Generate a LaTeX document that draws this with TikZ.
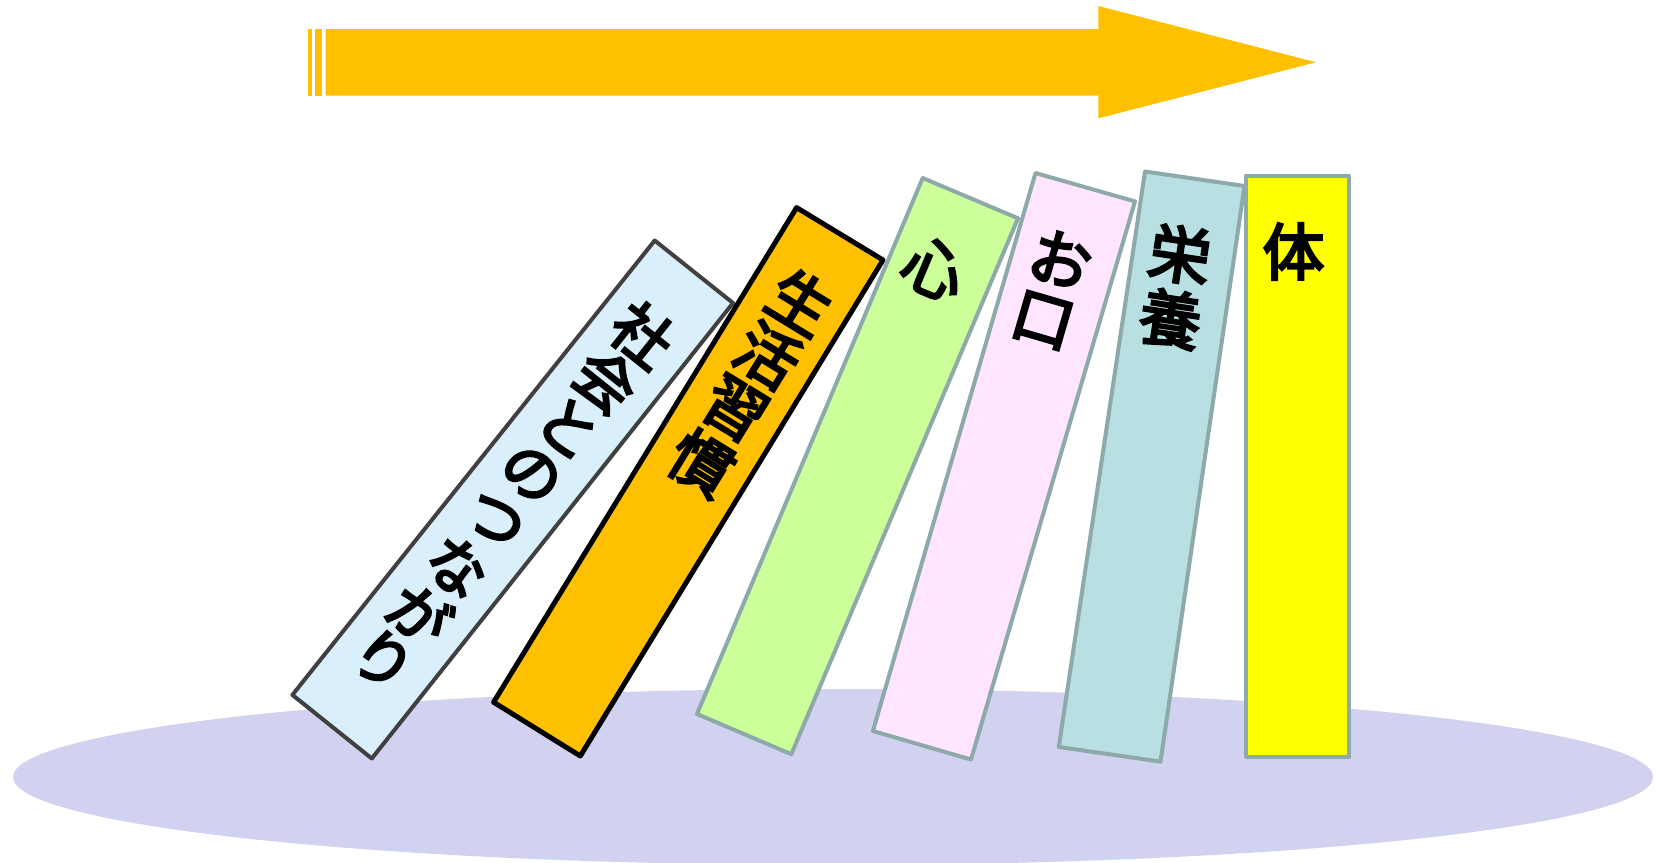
\documentclass[tikz,border=0pt]{standalone}
\usepackage{fontspec}
\newfontfamily\jp{Noto Sans CJK JP}[FakeBold=4]
\definecolor{groundcol}{HTML}{D1D2EF}
\definecolor{arrowcol}{HTML}{FFC000}
\definecolor{bluefill}{HTML}{DAEFFC}
\definecolor{orangefill}{HTML}{FFC000}
\definecolor{greenfill}{HTML}{CCFF99}
\definecolor{pinkfill}{HTML}{FFE5FF}
\definecolor{tealfill}{HTML}{B8DFE2}
\definecolor{yellowfill}{HTML}{FFFF00}
\definecolor{grayline}{HTML}{8EA9AA}
\definecolor{darkline}{HTML}{404040}
\begin{document}
\begin{tikzpicture}[x=1pt,y=-1pt,
  bookshape/.style={line width=4pt, line join=round},
  glyph/.style={font=\jp\fontsize{#1}{#1}\selectfont, inner sep=0pt, text=black},
  glyph/.default=62]
\useasboundingbox (0,0) rectangle (1661,862);
% ground
\fill[groundcol] (833,777) ellipse [x radius=820, y radius=88];
% arrow
\fill[arrowcol] (307.7,29) rectangle (311.7,95.7);
\fill[arrowcol] (315,29) rectangle (322,95.7);
\fill[arrowcol] (325.7,29) -- (1098.3,29) -- (1098.3,6) -- (1316,62.3) -- (1098.3,118.3) -- (1098.3,95.7) -- (325.7,95.7) -- cycle;
% book corners
\coordinate (b1t) at (654.7,240.5); \coordinate (b1r) at (733,303);
\coordinate (b1b) at (371.8,758.5); \coordinate (b1l) at (292.4,694.9);
\coordinate (b2t) at (796.6,207.6); \coordinate (b2r) at (883,260);
\coordinate (b2b) at (580.3,756); \coordinate (b2l) at (493.6,702.2);
\coordinate (b3t) at (922.7,178); \coordinate (b3r) at (1018,218.3);
\coordinate (b3b) at (791.3,754.2); \coordinate (b3l) at (697,714);
\coordinate (b4t) at (1035.5,173); \coordinate (b4r) at (1135,201.4);
\coordinate (b4b) at (971,759.5); \coordinate (b4l) at (872.9,731);
\coordinate (b5t) at (1145,171.5); \coordinate (b5r) at (1244.5,186);
\coordinate (b5b) at (1160.5,761.6); \coordinate (b5l) at (1058.8,747);
\coordinate (b6t) at (1246,175.5); \coordinate (b6r) at (1349,175.5);
\coordinate (b6b) at (1349,756.5); \coordinate (b6l) at (1246,756.5);
% books
\filldraw[bookshape, fill=bluefill, draw=darkline] (b1t) -- (b1r) -- (b1b) -- (b1l) -- cycle;
\filldraw[bookshape, fill=orangefill, draw=black, line width=5pt] (b2t) -- (b2r) -- (b2b) -- (b2l) -- cycle;
\filldraw[bookshape, fill=greenfill, draw=grayline] (b3t) -- (b3r) -- (b3b) -- (b3l) -- cycle;
\filldraw[bookshape, fill=pinkfill, draw=grayline] (b4t) -- (b4r) -- (b4b) -- (b4l) -- cycle;
\filldraw[bookshape, fill=tealfill, draw=grayline] (b5t) -- (b5r) -- (b5b) -- (b5l) -- cycle;
\filldraw[bookshape, fill=yellowfill, draw=grayline] (b6t) -- (b6r) -- (b6b) -- (b6l) -- cycle;
% titles
\begin{scope}[shift={(693.9,271.8)}, rotate=-38.57]
  \foreach \c [count=\i from 0] in {社,会,と,の,つ,な,が,り}
    \node[glyph=60, rotate=-38.57] (t1\i) at (-1,81+59.5*\i) {\c};
\end{scope}
\begin{scope}[shift={(839.8,233.8)}, rotate=-31.49]
  \foreach \c [count=\i from 0] in {生,活,習,慣}
    \node[glyph, rotate=-31.49] (t2\i) at (2,78+63.2*\i) {\c};
\end{scope}
\begin{scope}[shift={(970.4,198.2)}, rotate=-22.83]
  \node[glyph, rotate=-22.83] (t30) at (-6,79) {心};
\end{scope}
\begin{scope}[shift={(1085.3,187.2)}, rotate=-16.25]
  \foreach \c [count=\i from 0] in {お,口}
    \node[glyph, rotate=-16.25] (t4\i) at (-3.5,76+64*\i) {\c};
\end{scope}
\begin{scope}[shift={(1194.8,178.8)}, rotate=-8.52]
  \foreach \c [count=\i from 0] in {栄,養}
    \node[glyph, rotate=-8.52] (t5\i) at (-3.5,77+65*\i) {\c};
\end{scope}
\node[glyph] (t60) at (1293.5,251.5) {体};
\end{tikzpicture}
\end{document}
